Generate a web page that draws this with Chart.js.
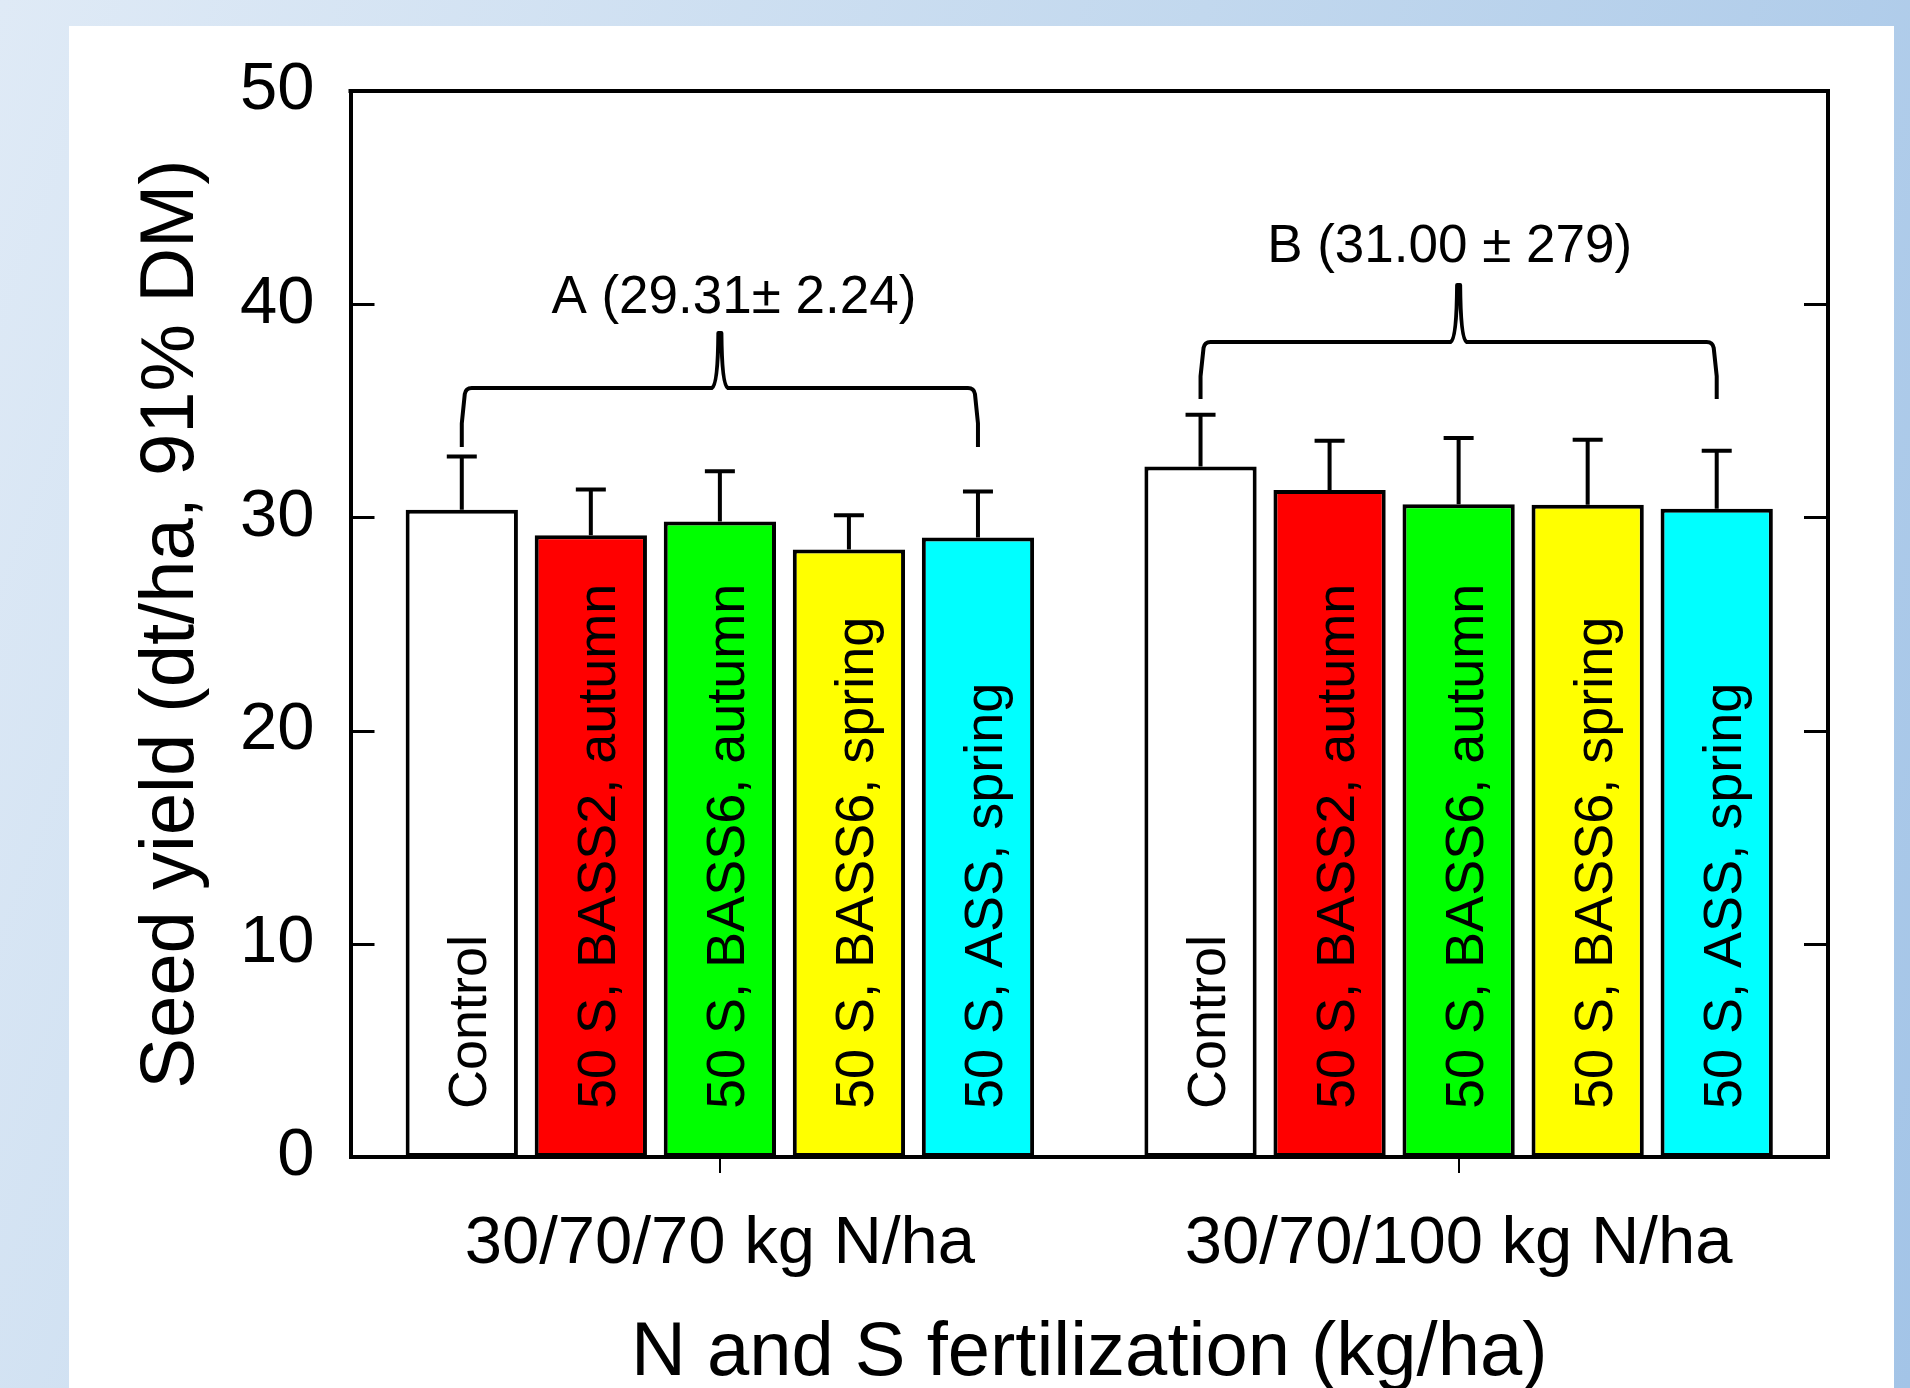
<!DOCTYPE html>
<html><head><meta charset="utf-8">
<script src="https://cdn.jsdelivr.net/npm/chart.js@4.4.1/dist/chart.umd.min.js"></script>
<style>
html,body{margin:0;padding:0;width:1910px;height:1388px;overflow:hidden;}
body{background:linear-gradient(110deg,#dfeaf6 0%,#c2d8ee 50%,#a3c4e7 100%);}
#panel{position:absolute;left:69px;top:26px;width:1825px;height:1400px;background:#fff;}
#c{position:absolute;left:0;top:0;}
</style></head><body>
<div id="panel"></div>
<canvas id="c" width="1910" height="1388"></canvas>
<script>
// ---- data ----
const categories = ['30/70/70 kg N/ha', '30/70/100 kg N/ha'];
const treatments = ['Control', '50 S, BASS2, autumn', '50 S, BASS6, autumn', '50 S, BASS6, spring', '50 S, ASS, spring'];
const controlYield     = [30.36, 32.39];
const bass2AutumnYield = [29.16, 31.28];
const bass6AutumnYield = [29.81, 30.62];
const bass6SpringYield = [28.50, 30.59];
const assSpringYield   = [29.06, 30.40];
const controlErr     = [2.50, 2.42];
const bass2AutumnErr = [2.15, 2.32];
const bass6AutumnErr = [2.36, 3.11];
const bass6SpringErr = [1.60, 3.05];
const assSpringErr   = [2.15, 2.73];
const yTicks = [0, 10, 20, 30, 40, 50];
const groupNotes = ['A (29.31\u00b1 2.24)', 'B (31.00 \u00b1 279)'];
// bracket levels (in y units): bottom of arms, horizontal bar, tip, note baseline
const bracketBottom = [33.3, 35.55];
const bracketBar    = [36.07, 38.23];
const bracketTip    = [38.65, 40.9];
const noteBase      = [39.6, 41.98];
const noteShift     = [14, -9];

const seriesValues = [controlYield, bass2AutumnYield, bass6AutumnYield, bass6SpringYield, assSpringYield];
const seriesErrors = [controlErr, bass2AutumnErr, bass6AutumnErr, bass6SpringErr, assSpringErr];
const colors = ['#ffffff', '#ff0000', '#00ff00', '#ffff00', '#00ffff'];
const FONT = '"Liberation Sans", Arial, sans-serif';
Chart.defaults.font.family = FONT;
Chart.defaults.color = '#000';

const framePlugin = {
  id: 'frame',
  afterDatasetsDraw(chart) {
    const {ctx, chartArea: a, scales: {y}} = chart;
    ctx.save();
    ctx.strokeStyle = '#000';
    ctx.lineWidth = 4;
    ctx.beginPath();
    ctx.moveTo(a.left - 2, a.top); ctx.lineTo(a.right + 2, a.top);
    ctx.moveTo(a.right, a.top); ctx.lineTo(a.right, a.bottom + 2);
    ctx.stroke();
    ctx.lineWidth = 3;
    ctx.beginPath();
    y.ticks.forEach(t => {
      if (t.value <= y.min || t.value >= y.max) return;
      const py = Math.round(y.getPixelForValue(t.value)) + 0.5;
      ctx.moveTo(a.left, py); ctx.lineTo(a.left + 24, py);
      ctx.moveTo(a.right, py); ctx.lineTo(a.right - 24, py);
    });
    ctx.stroke();
    ctx.restore();
  }
};

const errorPlugin = {
  id: 'errs',
  afterDatasetsDraw(chart) {
    const {ctx, scales: {y}} = chart;
    ctx.save();
    ctx.strokeStyle = '#000';
    ctx.lineWidth = 4;
    ctx.lineCap = 'butt';
    chart.data.datasets.forEach((ds, i) => {
      chart.getDatasetMeta(i).data.forEach((el, j) => {
        const top = y.getPixelForValue(ds.data[j] + seriesErrors[i][j]);
        ctx.beginPath();
        ctx.moveTo(el.x, el.y); ctx.lineTo(el.x, top);
        ctx.moveTo(el.x - 15, top); ctx.lineTo(el.x + 15, top);
        ctx.stroke();
      });
    });
    ctx.restore();
  }
};

const labelPlugin = {
  id: 'barLabels',
  afterDatasetsDraw(chart) {
    const {ctx, scales: {y}} = chart;
    const base = y.getPixelForValue(0);
    ctx.save();
    ctx.fillStyle = '#000';
    ctx.font = '54px ' + FONT;
    ctx.textAlign = 'left';
    ctx.textBaseline = 'alphabetic';
    chart.data.datasets.forEach((ds, i) => {
      chart.getDatasetMeta(i).data.forEach(el => {
        ctx.save();
        ctx.translate(el.x + 24, base - 48);
        ctx.rotate(-Math.PI / 2);
        ctx.fillText(treatments[i], 0, 0);
        ctx.restore();
      });
    });
    ctx.restore();
  }
};

const bracketPlugin = {
  id: 'brackets',
  afterDraw(chart) {
    const {ctx, scales: {y}} = chart;
    const n = chart.data.datasets.length;
    ctx.save();
    ctx.strokeStyle = '#000';
    ctx.fillStyle = '#000';
    ctx.lineWidth = 4;
    ctx.lineJoin = 'round';
    categories.forEach((c, j) => {
      const x1 = chart.getDatasetMeta(0).data[j].x;
      const x2 = chart.getDatasetMeta(n - 1).data[j].x;
      const cx = chart.getDatasetMeta(Math.floor(n / 2)).data[j].x;
      const yb = y.getPixelForValue(bracketBottom[j]);
      const yh = y.getPixelForValue(bracketBar[j]);
      const yt = y.getPixelForValue(bracketTip[j]);
      const arm = yb - yh;
      ctx.beginPath();
      ctx.moveTo(x1, yb);
      ctx.lineTo(x1, yb - arm * 0.4);
      ctx.lineTo(x1 + 3, yh + 6);
      ctx.quadraticCurveTo(x1 + 4, yh, x1 + 10, yh);
      ctx.lineTo(cx - 8, yh);
      ctx.quadraticCurveTo(cx - 2, yh - 3, cx - 1.5, yt);
      ctx.lineTo(cx + 1.5, yt);
      ctx.quadraticCurveTo(cx + 2, yh - 3, cx + 8, yh);
      ctx.lineTo(x2 - 10, yh);
      ctx.quadraticCurveTo(x2 - 4, yh, x2 - 3, yh + 6);
      ctx.lineTo(x2, yb - arm * 0.4);
      ctx.lineTo(x2, yb);
      ctx.stroke();
      ctx.font = '53px ' + FONT;
      ctx.textAlign = 'center';
      ctx.textBaseline = 'alphabetic';
      ctx.fillText(groupNotes[j], cx + noteShift[j], y.getPixelForValue(noteBase[j]));
    });
    ctx.restore();
  }
};

new Chart(document.getElementById('c'), {
  type: 'bar',
  data: {
    labels: categories,
    datasets: treatments.map((t, i) => ({
      label: t,
      data: seriesValues[i],
      backgroundColor: colors[i],
      borderColor: '#000',
      borderWidth: 4,
      borderSkipped: false,
      categoryPercentage: 0.8734,
      barPercentage: 0.87
    }))
  },
  options: {
    responsive: false,
    animation: false,
    devicePixelRatio: 1,
    layout: {padding: {left: 100, right: 82, top: 91, bottom: 0}},
    plugins: {legend: {display: false}, tooltip: {enabled: false}},
    scales: {
      x: {
        grid: {display: true, drawOnChartArea: false, drawTicks: true, tickLength: 16, offset: false, color: '#000', lineWidth: 2},
        border: {display: true, color: '#000', width: 4},
        ticks: {font: {size: 67}, padding: 31, maxRotation: 0, minRotation: 0, color: '#000'},
        title: {display: true, text: 'N and S fertilization (kg/ha)', font: {size: 76, lineHeight: 1}, padding: {top: 0, bottom: -4}, color: '#000'},
        afterFit(s) { s.height = 231; }
      },
      y: {
        min: 0, max: 50,
        afterBuildTicks(s) { s.ticks = yTicks.map(v => ({value: v})); },
        ticks: {font: {size: 67}, padding: 36, color: '#000'},
        grid: {display: false, drawTicks: false},
        border: {display: true, color: '#000', width: 4},
        title: {display: true, text: 'Seed yield (dt/ha, 91% DM)', font: {size: 76}, padding: {top: 26, bottom: 0}, color: '#000'},
        afterFit(s) { s.width = 250.5; }
      }
    }
  },
  plugins: [framePlugin, errorPlugin, labelPlugin, bracketPlugin]
});
</script>
</body></html>
